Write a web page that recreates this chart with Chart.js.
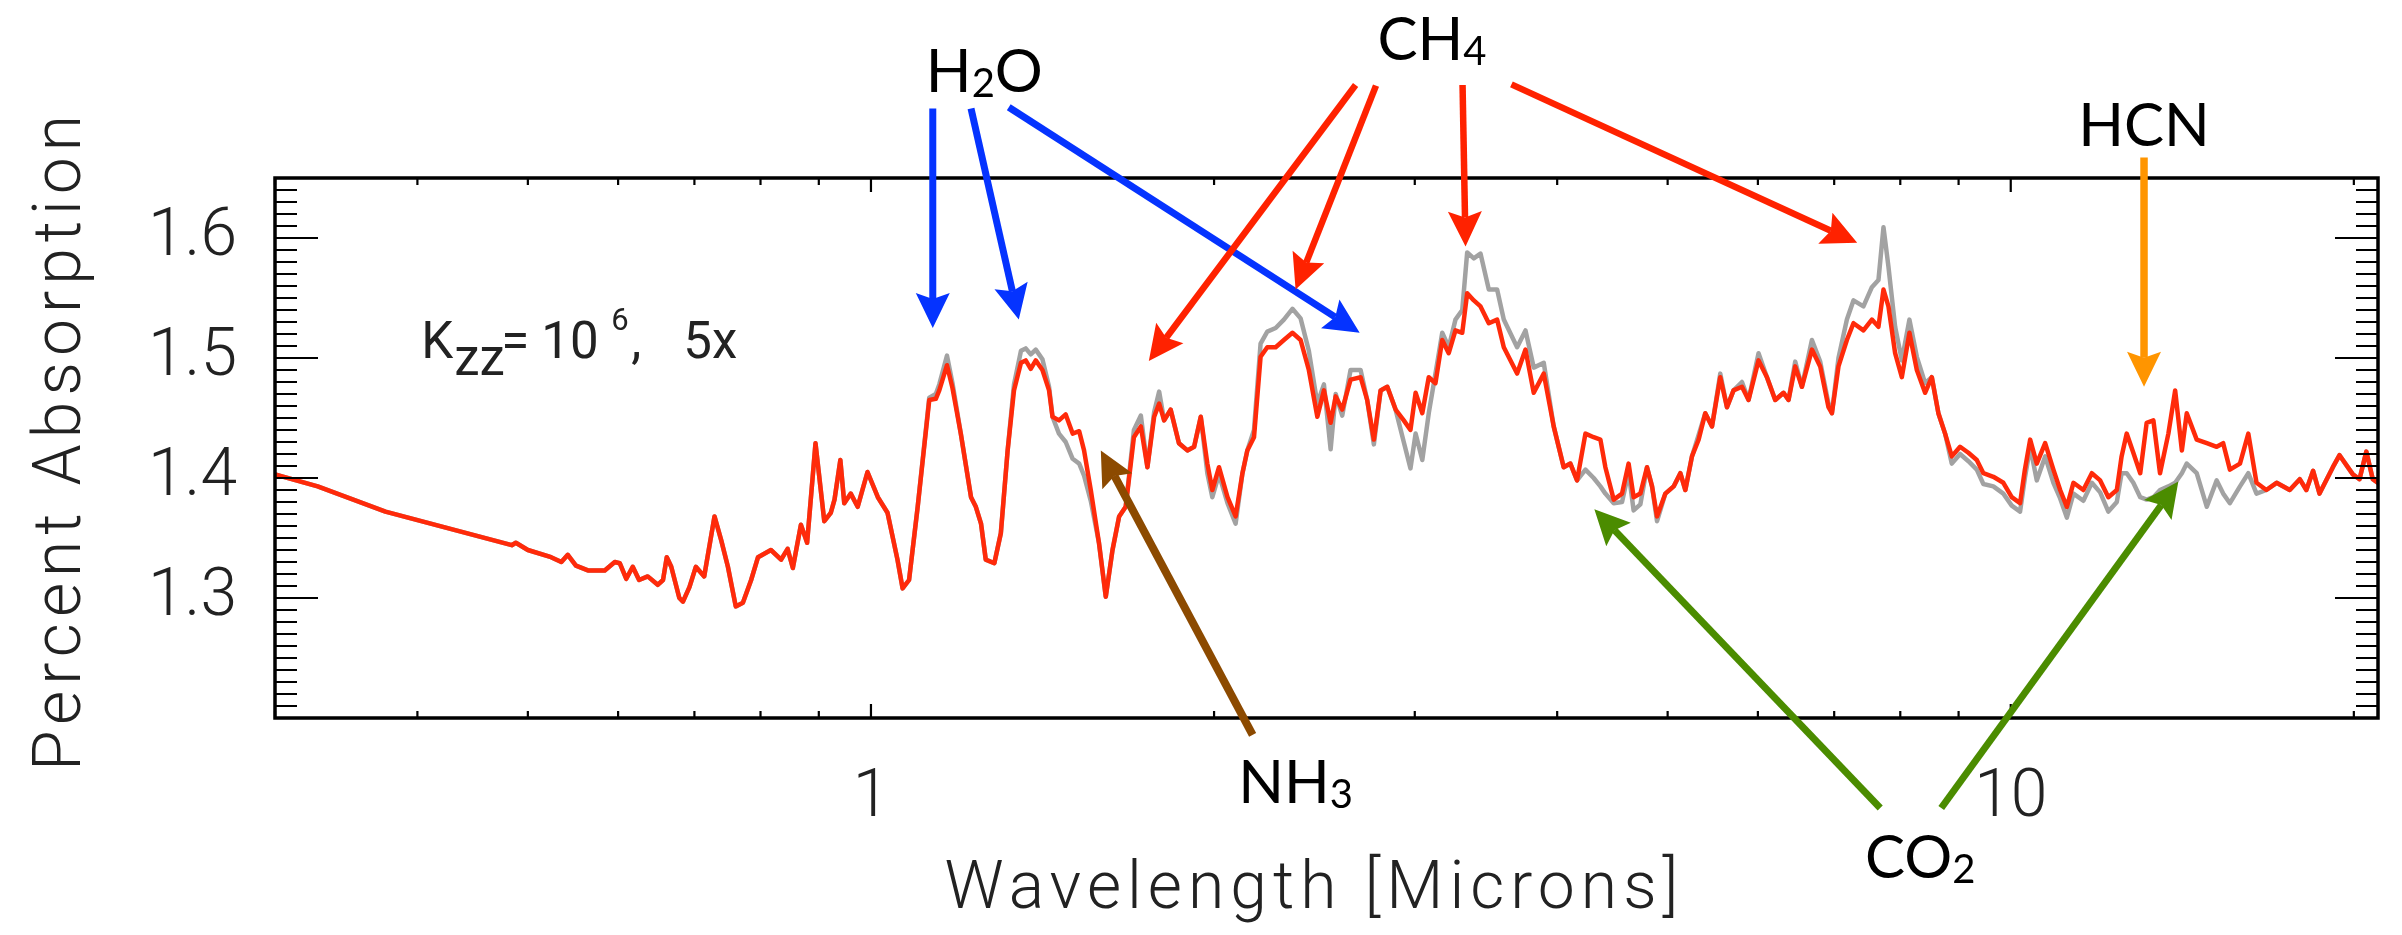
<!DOCTYPE html>
<html>
<head>
<meta charset="utf-8">
<script src="https://cdn.jsdelivr.net/npm/chart.js@4.4.1/dist/chart.umd.min.js"></script>
<style>
  html, body { margin: 0; padding: 0; background: #fff; }
  canvas { display: block; }
</style>
</head>
<body>
<canvas id="spectrum" width="2402" height="935"></canvas>
<script>
// wavelength grid in microns
const wavelength = [
  0.300, 0.327, 0.375, 0.484, 0.488, 0.500, 0.524, 0.535, 0.542, 0.551,
  0.5645, 0.584, 0.596, 0.602, 0.610, 0.618, 0.626, 0.637, 0.650, 0.657,
  0.662, 0.668, 0.679, 0.684, 0.693, 0.702, 0.714, 0.729, 0.739, 0.749,
  0.761, 0.772, 0.785, 0.796, 0.817, 0.834, 0.845, 0.854, 0.868, 0.879,
  0.894, 0.910, 0.922, 0.929, 0.940, 0.9475, 0.960, 0.9735, 0.993, 1.014,
  1.034, 1.055, 1.066, 1.080, 1.099, 1.125, 1.140, 1.148, 1.166, 1.179,
  1.199, 1.224, 1.236, 1.249, 1.261, 1.283, 1.300, 1.318, 1.335, 1.354,
  1.367, 1.381, 1.395, 1.414, 1.433, 1.443, 1.462, 1.482, 1.503, 1.523,
  1.538, 1.559, 1.585, 1.607, 1.629, 1.651, 1.673, 1.701, 1.725, 1.748,
  1.772, 1.790, 1.808, 1.832, 1.863, 1.895, 1.921, 1.947, 1.973, 1.993,
  2.020, 2.055, 2.089, 2.118, 2.139, 2.168, 2.197, 2.227, 2.265, 2.303,
  2.343, 2.382, 2.422, 2.464, 2.497, 2.531, 2.557, 2.591, 2.635, 2.689,
  2.725, 2.762, 2.800, 2.838, 2.886, 2.934, 2.974, 3.005, 3.046, 3.086,
  3.128, 3.171, 3.213, 3.257, 3.302, 3.335, 3.380, 3.426, 3.484, 3.543,
  3.591, 3.689, 3.752, 3.815, 3.893, 3.972, 4.053, 4.108, 4.164, 4.235,
  4.306, 4.365, 4.409, 4.484, 4.560, 4.621, 4.668, 4.732, 4.796, 4.845,
  4.894, 4.977, 5.061, 5.130, 5.182, 5.252, 5.323, 5.395, 5.469, 5.561,
  5.637, 5.712, 5.810, 5.888, 6.008, 6.111, 6.214, 6.319, 6.383, 6.470,
  6.558, 6.692, 6.805, 6.920, 6.968, 7.061, 7.182, 7.278, 7.426, 7.554,
  7.655, 7.733, 7.811, 7.917, 8.025, 8.149, 8.272, 8.411, 8.526, 8.640,
  8.758, 8.877, 9.027, 9.180, 9.337, 9.462, 9.655, 9.852, 10.02, 10.19,
  10.29, 10.40, 10.54, 10.72, 10.90, 11.05, 11.20, 11.35, 11.58, 11.78,
  11.98, 12.18, 12.39, 12.51, 12.64, 12.81, 12.99, 13.16, 13.34, 13.52,
  13.75, 13.94, 14.13, 14.27, 14.56, 14.86, 15.16, 15.36, 15.57, 15.89,
  16.16, 16.43, 16.76, 17.11, 17.57, 17.93, 18.17, 18.42, 18.66, 19.17,
  19.43, 19.96, 20.23, 20.51, 20.78, 21.0
];

// Kzz = 1e6, 5x metallicity (red)
const kzz5x = [
  1.403, 1.393, 1.372, 1.344, 1.346, 1.340, 1.334, 1.330, 1.336, 1.327,
  1.323, 1.323, 1.330, 1.329, 1.316, 1.326, 1.315, 1.318, 1.311, 1.315,
  1.334, 1.326, 1.300, 1.297, 1.309, 1.326, 1.318, 1.368, 1.348, 1.326,
  1.293, 1.296, 1.315, 1.334, 1.340, 1.332, 1.341, 1.325, 1.361, 1.346,
  1.429, 1.364, 1.371, 1.382, 1.415, 1.379, 1.387, 1.376, 1.405, 1.384,
  1.371, 1.332, 1.308, 1.315, 1.376, 1.465, 1.466, 1.473, 1.494, 1.475,
  1.437, 1.384, 1.376, 1.362, 1.332, 1.329, 1.354, 1.423, 1.473, 1.496,
  1.498, 1.491, 1.498, 1.490, 1.473, 1.451, 1.448, 1.453, 1.437, 1.439,
  1.423, 1.390, 1.346, 1.301, 1.340, 1.368, 1.376, 1.434, 1.443, 1.409,
  1.451, 1.462, 1.448, 1.457, 1.429, 1.423, 1.426, 1.451, 1.412, 1.390,
  1.409, 1.384, 1.368, 1.404, 1.423, 1.434, 1.501, 1.509, 1.509, 1.515,
  1.521, 1.515, 1.490, 1.451, 1.473, 1.446, 1.468, 1.457, 1.482, 1.484,
  1.465, 1.432, 1.473, 1.476, 1.457, 1.448, 1.440, 1.471, 1.454, 1.484,
  1.479, 1.515, 1.504, 1.523, 1.521, 1.554, 1.548, 1.543, 1.529, 1.532,
  1.509, 1.487, 1.507, 1.471, 1.487, 1.443, 1.409, 1.412, 1.398, 1.437,
  1.434, 1.432, 1.409, 1.382, 1.387, 1.412, 1.384, 1.387, 1.409, 1.393,
  1.368, 1.387, 1.393, 1.404, 1.390, 1.418, 1.432, 1.454, 1.443, 1.484,
  1.459, 1.473, 1.476, 1.465, 1.498, 1.484, 1.465, 1.471, 1.465, 1.493,
  1.476, 1.507, 1.493, 1.459, 1.454, 1.493, 1.515, 1.529, 1.523, 1.532,
  1.526, 1.557, 1.543, 1.504, 1.484, 1.521, 1.490, 1.471, 1.484, 1.454,
  1.437, 1.418, 1.426, 1.421, 1.415, 1.404, 1.401, 1.396, 1.384, 1.379,
  1.407, 1.432, 1.412, 1.429, 1.407, 1.390, 1.376, 1.396, 1.390, 1.404,
  1.398, 1.384, 1.390, 1.418, 1.437, 1.421, 1.404, 1.446, 1.448, 1.404,
  1.437, 1.473, 1.423, 1.454, 1.432, 1.429, 1.426, 1.429, 1.407, 1.412,
  1.437, 1.396, 1.390, 1.396, 1.390, 1.399, 1.390, 1.406, 1.387, 1.409,
  1.419, 1.403, 1.399, 1.422, 1.399, 1.396
];

// comparison model (grey)
const kzzBase = [
  1.403, 1.393, 1.372, 1.344, 1.346, 1.340, 1.334, 1.330, 1.336, 1.327,
  1.323, 1.323, 1.330, 1.329, 1.316, 1.326, 1.315, 1.318, 1.311, 1.315,
  1.334, 1.326, 1.300, 1.297, 1.309, 1.326, 1.318, 1.368, 1.348, 1.326,
  1.293, 1.296, 1.315, 1.334, 1.340, 1.332, 1.341, 1.325, 1.361, 1.346,
  1.429, 1.364, 1.371, 1.382, 1.415, 1.379, 1.387, 1.376, 1.405, 1.384,
  1.371, 1.332, 1.308, 1.315, 1.376, 1.467, 1.470, 1.478, 1.502, 1.479,
  1.437, 1.384, 1.376, 1.362, 1.332, 1.329, 1.354, 1.423, 1.478, 1.506,
  1.508, 1.503, 1.507, 1.499, 1.476, 1.451, 1.437, 1.430, 1.416, 1.412,
  1.402, 1.381, 1.346, 1.301, 1.340, 1.368, 1.376, 1.440, 1.452, 1.409,
  1.455, 1.472, 1.448, 1.457, 1.429, 1.423, 1.426, 1.451, 1.404, 1.384,
  1.403, 1.379, 1.362, 1.404, 1.423, 1.440, 1.512, 1.522, 1.525, 1.532,
  1.541, 1.533, 1.506, 1.462, 1.478, 1.424, 1.470, 1.452, 1.490, 1.490,
  1.465, 1.428, 1.473, 1.476, 1.457, 1.430, 1.408, 1.437, 1.415, 1.454,
  1.487, 1.521, 1.509, 1.532, 1.540, 1.588, 1.583, 1.587, 1.557, 1.557,
  1.532, 1.509, 1.523, 1.492, 1.496, 1.443, 1.409, 1.412, 1.398, 1.407,
  1.400, 1.393, 1.387, 1.379, 1.380, 1.405, 1.373, 1.378, 1.409, 1.393,
  1.364, 1.387, 1.393, 1.404, 1.390, 1.418, 1.436, 1.454, 1.443, 1.487,
  1.459, 1.473, 1.480, 1.465, 1.504, 1.484, 1.465, 1.471, 1.465, 1.497,
  1.476, 1.515, 1.497, 1.462, 1.454, 1.500, 1.532, 1.548, 1.543, 1.559,
  1.565, 1.609, 1.576, 1.526, 1.498, 1.532, 1.501, 1.479, 1.484, 1.454,
  1.437, 1.412, 1.420, 1.414, 1.407, 1.395, 1.393, 1.387, 1.377, 1.372,
  1.400, 1.426, 1.398, 1.418, 1.396, 1.383, 1.367, 1.387, 1.381, 1.396,
  1.388, 1.372, 1.380, 1.404, 1.404, 1.396, 1.384, 1.382, 1.384, 1.390,
  1.393, 1.396, 1.404, 1.412, 1.404, 1.376, 1.398, 1.387, 1.379, 1.393,
  1.404, 1.387, 1.390, 1.396, 1.390, 1.399, 1.390, 1.406, 1.387, 1.409,
  1.419, 1.403, 1.399, 1.422, 1.399, 1.396
];

// axis ticks
const xTickValues = [0.3, 0.4, 0.5, 0.6, 0.7, 0.8, 0.9, 1, 2, 3, 4, 5, 6, 7, 8, 9, 10, 20];
const xLabelled = [1, 10];
const yLabelled = [1.3, 1.4, 1.5, 1.6];

// molecule call-outs: arrows as [tail wavelength, tail value, tip wavelength, tip value]
const molecules = [
  { parts: [['H', 0], ['2', 1], ['O', 0]], at: [1.2575, 1.7219], color: '#0533ff', width: 7,
    arrows: [[1.133, 1.708, 1.133, 1.525], [1.224, 1.708, 1.348, 1.532], [1.321, 1.709, 2.684, 1.521]] },
  { parts: [['CH', 0], ['4', 1]], at: [3.106, 1.7483], color: '#ff2200', width: 6.5,
    arrows: [[2.662, 1.7275, 1.753, 1.4975], [2.774, 1.727, 2.358, 1.557], [3.304, 1.7275, 3.324, 1.593], [3.647, 1.728, 7.333, 1.596]] },
  { parts: [['HCN', 0]], at: [13.09, 1.6767], color: '#ff9500', width: 7.5,
    arrows: [[13.09, 1.667, 13.09, 1.476]] },
  { parts: [['NH', 0], ['3', 1]], at: [2.358, 1.1292], color: '#8c4a00', width: 8,
    arrows: [[2.162, 1.186, 1.591, 1.423]] },
  { parts: [['CO', 0], ['2', 1]], at: [8.328, 1.0667], color: '#4b8c00', width: 7,
    arrows: [[7.682, 1.125, 4.312, 1.374], [8.690, 1.125, 14.03, 1.397]] }
];

const axisFont = '300 66px Roboto';
const axisColor = '#222';

function drawArrow(ctx, x0, y0, x1, y1, color, width) {
  const ang = Math.atan2(y1 - y0, x1 - x0);
  const len = 35, half = 17, notch = 6;
  const c = Math.cos(ang), s = Math.sin(ang);
  const bx = x1 - c * len, by = y1 - s * len;
  const nx = x1 - c * (len - notch), ny = y1 - s * (len - notch);
  ctx.strokeStyle = color;
  ctx.lineWidth = width;
  ctx.lineCap = 'butt';
  ctx.beginPath();
  ctx.moveTo(x0, y0);
  ctx.lineTo(nx, ny);
  ctx.stroke();
  ctx.fillStyle = color;
  ctx.beginPath();
  ctx.moveTo(x1, y1);
  ctx.lineTo(bx + s * half, by - c * half);
  ctx.lineTo(nx, ny);
  ctx.lineTo(bx - s * half, by + c * half);
  ctx.closePath();
  ctx.fill();
}

function drawFormula(ctx, parts, cx, baseY) {
  const big = '400 60px Lato', small = '400 40px Lato';
  let total = 0;
  parts.forEach(([t, sub]) => { ctx.font = sub ? small : big; total += ctx.measureText(t).width; });
  let x = cx - total / 2;
  ctx.fillStyle = '#000';
  ctx.textAlign = 'left';
  ctx.textBaseline = 'alphabetic';
  parts.forEach(([t, sub]) => {
    ctx.font = sub ? small : big;
    ctx.fillText(t, x, baseY + (sub ? 5 : 0));
    x += ctx.measureText(t).width;
  });
}

// box, inward tick marks, axis titles and the Kzz note
const frame = {
  id: 'frame',
  afterDatasetsDraw(chart) {
    const { ctx, chartArea: a, scales: { x, y } } = chart;
    ctx.save();
    ctx.strokeStyle = '#000';
    ctx.lineWidth = 2.2;
    ctx.beginPath();
    x.ticks.forEach(t => {
      const px = x.getPixelForValue(t.value);
      const len = xLabelled.includes(t.value) ? 14 : 7;
      ctx.moveTo(px, a.bottom); ctx.lineTo(px, a.bottom - len);
      ctx.moveTo(px, a.top); ctx.lineTo(px, a.top + len);
    });
    y.ticks.forEach(t => {
      const py = y.getPixelForValue(t.value);
      const major = Math.abs(t.value * 10 - Math.round(t.value * 10)) < 1e-6;
      const len = major ? 43 : 22;
      ctx.moveTo(a.left, py); ctx.lineTo(a.left + len, py);
      ctx.moveTo(a.right, py); ctx.lineTo(a.right - len, py);
    });
    ctx.stroke();
    ctx.lineWidth = 3.5;
    ctx.strokeRect(a.left, a.top, a.right - a.left, a.bottom - a.top);

    // axis titles
    ctx.fillStyle = axisColor;
    ctx.font = axisFont;
    ctx.letterSpacing = '6px';
    ctx.textAlign = 'center';
    ctx.textBaseline = 'alphabetic';
    ctx.fillText('Wavelength [Microns]', (a.left + a.right) / 2 - 12, a.bottom + 190);
    ctx.save();
    ctx.translate(80, (a.top + a.bottom) / 2 - 8);
    ctx.rotate(-Math.PI / 2);
    ctx.fillText('Percent Absorption', 0, 0);
    ctx.restore();
    ctx.letterSpacing = '0px';

    // model label
    const kx = x.getPixelForValue(0.4031), ky = y.getPixelForValue(1.5);
    ctx.textAlign = 'left';
    ctx.font = '400 51px Roboto';
    ctx.fillText('K', kx, ky);
    ctx.fillText('zz', kx + 33, ky + 17);
    ctx.fillText('=', kx + 80, ky);
    ctx.fillText('10', kx + 120, ky);
    ctx.fillText(',', kx + 210, ky);
    ctx.fillText('5x', kx + 262, ky);
    ctx.font = '400 31px Roboto';
    ctx.fillText('6', kx + 190, ky - 28);
    ctx.restore();
  },
  afterDraw(chart) {
    const { ctx, scales: { x, y } } = chart;
    ctx.save();
    molecules.forEach(m => {
      m.arrows.forEach(([w0, v0, w1, v1]) => {
        drawArrow(ctx, x.getPixelForValue(w0), y.getPixelForValue(v0),
          x.getPixelForValue(w1), y.getPixelForValue(v1), m.color, m.width);
      });
      drawFormula(ctx, m.parts, x.getPixelForValue(m.at[0]), y.getPixelForValue(m.at[1]));
    });
    ctx.restore();
  }
};

new Chart(document.getElementById('spectrum'), {
  type: 'line',
  data: {
    datasets: [
      {
        label: 'Kzz=1e6, 5x',
        data: wavelength.map((w, i) => ({ x: w, y: kzz5x[i] })),
        borderColor: '#ff2a0a',
        borderWidth: 4.5,
        borderJoinStyle: 'round',
        pointRadius: 0,
        tension: 0
      },
      {
        label: 'base',
        data: wavelength.map((w, i) => ({ x: w, y: kzzBase[i] })),
        borderColor: '#a2a2a2',
        borderWidth: 4.5,
        borderJoinStyle: 'round',
        pointRadius: 0,
        tension: 0
      }
    ]
  },
  options: {
    responsive: false,
    animation: false,
    devicePixelRatio: 1,
    layout: { padding: { top: 178, right: 24, bottom: 0, left: 0 } },
    plugins: {
      legend: { display: false },
      tooltip: { enabled: false }
    },
    scales: {
      x: {
        type: 'logarithmic',
        min: 0.3,
        max: 21,
        afterBuildTicks: s => { s.ticks = xTickValues.map(v => ({ value: v })); },
        afterFit: s => { s.height = 217; },
        grid: { display: false },
        border: { display: false },
        ticks: {
          autoSkip: false,
          maxRotation: 0,
          padding: 34,
          color: axisColor,
          font: { family: 'Roboto', size: 66, weight: 300 },
          callback: v => (xLabelled.includes(v) ? String(v) : '')
        }
      },
      y: {
        min: 1.2,
        max: 1.65,
        afterFit: s => { s.width = 275; },
        grid: { display: false },
        border: { display: false },
        ticks: {
          stepSize: 0.01,
          autoSkip: false,
          padding: 30,
          color: axisColor,
          font: { family: 'Roboto', size: 66, weight: 300 },
          callback: v => {
            const r = Math.round(v * 100) / 100;
            return yLabelled.includes(r) ? r.toFixed(1) : '';
          }
        }
      }
    }
  },
  plugins: [frame]
});
</script>
</body>
</html>
